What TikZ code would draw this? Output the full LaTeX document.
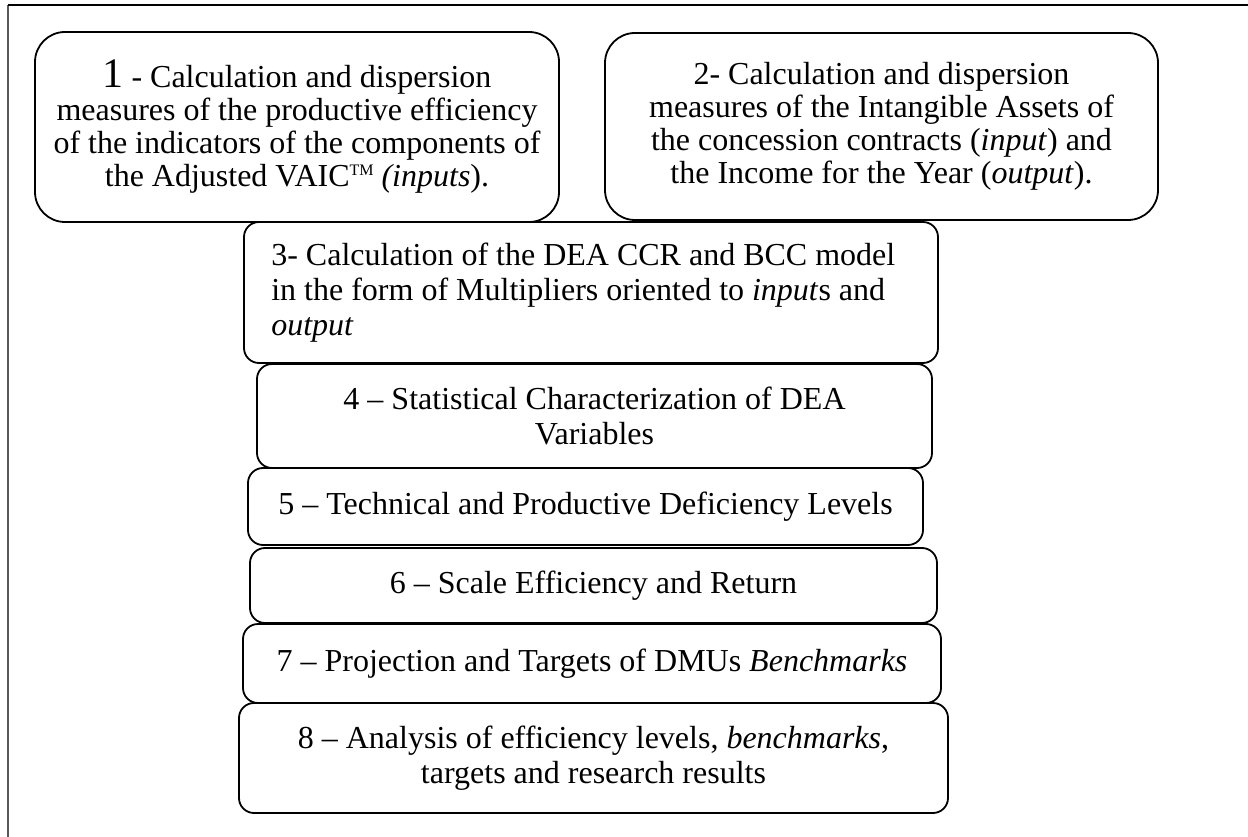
\documentclass[tikz,border=0pt]{standalone}
\usepackage{fontspec}
\setmainfont{Liberation Serif}
\newcommand{\tmmark}{\smash{\raisebox{0.36em}{\fontsize{16}{16}\selectfont TM}}}
\begin{document}
\begin{tikzpicture}[x=1pt,y=-1pt,
  stagefont/.style={font=\fontsize{32}{35}\selectfont},
  stage/.style={draw=black, line width=1.8pt, rounded corners=15pt, fill=white,
    inner sep=0pt, align=center, stagefont},
  bigstage/.style={stage, rounded corners=30pt, font=\fontsize{32}{33}\selectfont},
  frameline/.style={line width=2.4pt}]
\useasboundingbox (0,0) rectangle (1248,837);

% outer frame: top and left rules only
\coordinate (fbl) at (8,837);
\coordinate (ftl) at (8,5);
\coordinate (ftr) at (1248,5);
\draw[frameline, black!65] (fbl) -- (ftl);
\draw[frameline] (ftl) -- (ftr);

% the two opening stages
\node[bigstage, minimum width=524pt, minimum height=190pt] (s1) at (297,127)
  {{\fontsize{42}{33}\selectfont 1} - Calculation and dispersion\\
   measures of the productive efficiency\\
   of the indicators of the components of\\
   the Adjusted VAIC\tmmark{} \textit{(inputs}).};
\node[bigstage, minimum width=553pt, minimum height=187pt] (s2) at (881.5,126.5)
  {2- Calculation and dispersion\\
   measures of the Intangible Assets of\\
   the concession contracts (\textit{input}) and\\
   the Income for the Year (\textit{output}).};

% stacked stages
\node[stage, minimum width=694pt, minimum height=141pt] (s3) at (591,292.5) {};
\node[stagefont, anchor=west, align=left, inner sep=0pt] (s3t) at ([xshift=28pt]s3.west)
  {3- Calculation of the DEA CCR and BCC model\\
   in the form of Multipliers oriented to \textit{input}s and\\
   \textit{output}};
\node[stage, minimum width=675pt, minimum height=104pt] (s4) at (594.5,416)
  {4 -- Statistical Characterization of DEA\\Variables};
\node[stage, minimum width=675pt, minimum height=77pt] (s5) at (585.5,506.5)
  {5 -- Technical and Productive Deficiency Levels};
\node[stage, minimum width=687pt, minimum height=75pt] (s6) at (593.5,585.5)
  {6 -- Scale Efficiency and Return};
\node[stage, minimum width=698pt, minimum height=79pt] (s7) at (592,663.5)
  {7 -- Projection and Targets of DMUs \textit{Benchmarks}};
\node[stage, minimum width=709pt, minimum height=110pt] (s8) at (593.5,758)
  {8 -- Analysis of efficiency levels, \textit{benchmarks},\\
   targets and research results};
\end{tikzpicture}
\end{document}
